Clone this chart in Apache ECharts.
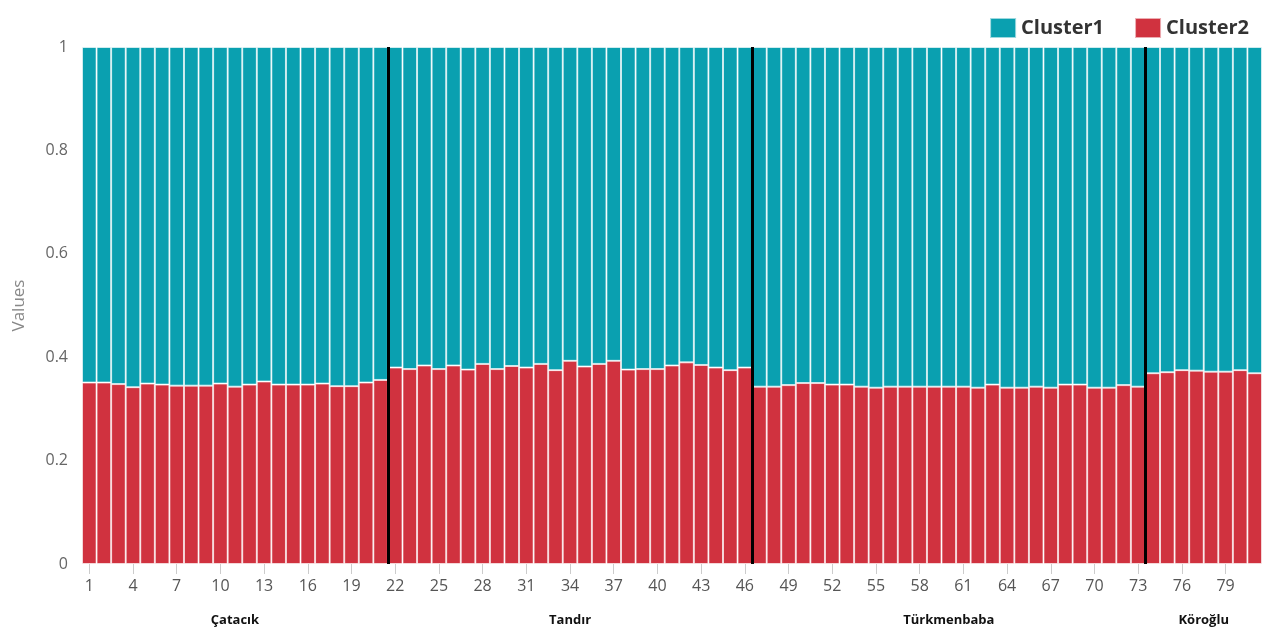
<!DOCTYPE html>
<html>
<head>
<meta charset="utf-8">
<script src="https://cdn.jsdelivr.net/npm/echarts@6/dist/echarts.min.js"></script>
<style>
  html, body { margin: 0; padding: 0; background: #fff; }
  #chart { width: 1264px; height: 629px; }
</style>
</head>
<body>
<div id="chart"></div>
<script>
// 分组
const groupNames = ['Çatacık', 'Tandır', 'Türkmenbaba', 'Köroğlu']

// Cluster2 比例, 按组读取
const catacik = [0.351, 0.351, 0.348, 0.342, 0.349, 0.347, 0.345, 0.345, 0.345, 0.349, 0.343,
  0.347, 0.353, 0.347, 0.347, 0.347, 0.349, 0.344, 0.344, 0.351, 0.356]
const tandir = [0.380, 0.377, 0.384, 0.377, 0.384, 0.376, 0.387, 0.377, 0.383, 0.380, 0.387,
  0.375, 0.393, 0.382, 0.387, 0.393, 0.376, 0.377, 0.377, 0.384, 0.390, 0.385, 0.380, 0.375, 0.380]
const turkmenbaba = [0.343, 0.343, 0.346, 0.350, 0.350, 0.347, 0.347, 0.343, 0.341, 0.343, 0.343,
  0.343, 0.343, 0.343, 0.343, 0.341, 0.347, 0.341, 0.341, 0.343, 0.341, 0.347, 0.347, 0.341,
  0.341, 0.346, 0.343]
const koroglu = [0.369, 0.371, 0.375, 0.374, 0.372, 0.372, 0.375, 0.369]

const groups = [catacik, tandir, turkmenbaba, koroglu]
const cluster2 = [].concat(...groups)
const cluster1 = cluster2.map(v => +(1 - v).toFixed(3))
const categories = cluster2.map((v, i) => String(i + 1))

// 组边界 (样本序号之间)
const boundaries = []
let count = 0
groups.slice(0, -1).forEach(g => {
  count += g.length
  boundaries.push(count + 0.5)
})

const chart = echarts.init(document.getElementById('chart'))

const option = {
  animation: false,
  textStyle: { fontFamily: 'Open Sans' },
  grid: { left: 82, right: 2, top: 47, bottom: 65 },
  legend: {
    data: ['Cluster1', 'Cluster2'],
    right: 10,
    top: 12,
    icon: 'rect',
    itemWidth: 26,
    itemHeight: 20,
    itemGap: 30,
    textStyle: { fontSize: 20, fontWeight: 'bold', color: '#333' }
  },
  xAxis: [
    {
      type: 'category',
      data: categories,
      axisLine: { show: false },
      axisTick: {
        show: true,
        interval: 2,
        alignWithLabel: true,
        length: 10,
        lineStyle: { color: '#ccc' }
      },
      axisLabel: { interval: 2, fontSize: 16, color: '#555', margin: 14 }
    },
    {
      type: 'value',
      min: 0.5,
      max: cluster2.length + 0.5,
      show: false
    }
  ],
  yAxis: {
    type: 'value',
    min: 0,
    max: 1,
    interval: 0.2,
    name: 'Values',
    nameLocation: 'middle',
    nameGap: 54,
    nameTextStyle: { fontSize: 17, color: '#888' },
    axisLine: { show: false },
    axisTick: { show: false },
    splitLine: { show: false },
    axisLabel: { fontSize: 16, color: '#666', margin: 14 }
  },
  series: [
    {
      name: 'Cluster2',
      type: 'bar',
      stack: 'all',
      barCategoryGap: '0%',
      itemStyle: { color: '#d0323f', borderColor: 'rgba(255,255,255,0.6)', borderWidth: 1 },
      data: cluster2
    },
    {
      name: 'Cluster1',
      type: 'bar',
      stack: 'all',
      barCategoryGap: '0%',
      itemStyle: { color: '#0aa0b0', borderColor: 'rgba(255,255,255,0.6)', borderWidth: 1 },
      data: cluster1
    },
    {
      name: 'sep',
      type: 'line',
      xAxisIndex: 1,
      data: [],
      silent: true,
      markLine: {
        symbol: 'none',
        label: { show: false },
        lineStyle: { color: '#000', width: 3, type: 'solid' },
        data: boundaries.map(b => ({ xAxis: b }))
      }
    }
  ]
}

chart.setOption(option)

// 组名放在各组中心下方
let start = 1
const y0 = chart.convertToPixel({ yAxisIndex: 0 }, 0)
const texts = groups.map((g, i) => {
  const center = start + (g.length - 1) / 2
  start += g.length
  const x = chart.convertToPixel({ xAxisIndex: 1 }, center)
  return {
    type: 'text',
    x: x,
    y: y0 + 56,
    style: {
      text: groupNames[i],
      font: 'bold 13px "Open Sans"',
      fill: '#111',
      align: 'center',
      verticalAlign: 'middle'
    }
  }
})
chart.setOption({ graphic: texts })
</script>
</body>
</html>
